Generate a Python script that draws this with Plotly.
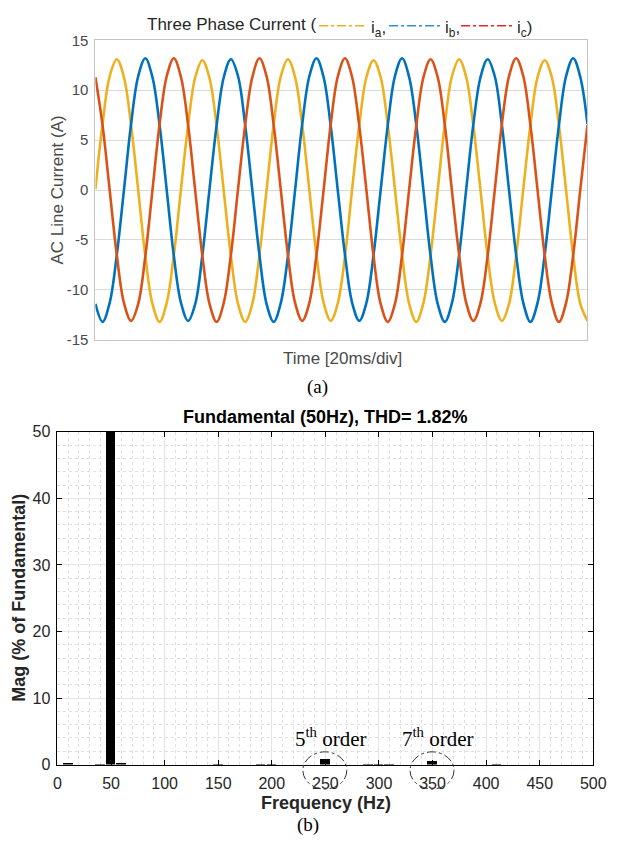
import plotly.graph_objects as go

W, H = 617, 846

# ---------------- data: (a) three-phase currents, sampled every 1/12 of a 20 ms cycle ----------------
step_ms = 20 / 12
ia = [0.1, 6.6, 11.4, 13.1, 11.3, 6.5, 0.0, -6.6, -11.4, -13.2, -11.3, -6.5,
      0.1, 6.5, 11.3, 13.0, 11.2, 6.4, -0.1, -6.6, -11.4, -13.2, -11.4, -6.5,
      0.0, 6.6, 11.4, 13.1, 11.3, 6.5, 0.0, -6.5, -11.3, -13.1, -11.3, -6.6,
      0.1, 6.5, 11.3, 13.0, 11.3, 6.5, 0.1, -6.5, -11.4, -13.2, -11.3, -6.5,
      0.0, 6.6, 11.4, 13.1, 11.3, 6.4, 0.0, -6.6, -11.3, -13.1, -11.4, -6.5,
      0.1, 6.5, 11.3, 13.0, 11.3, 6.5, 0.0, -6.6, -11.4, -13.1]
ib = [-11.4, -13.2, -11.3, -6.5, 0.0, 6.6, 11.4, 13.2, 11.3, 6.5, 0.0, -6.6,
      -11.3, -13.1, -11.4, -6.5, 0.1, 6.5, 11.3, 13.1, 11.4, 6.5, 0.0, -6.5,
      -11.4, -13.2, -11.3, -6.6, 0.0, 6.6, 11.4, 13.2, 11.3, 6.4, -0.1, -6.5,
      -11.3, -13.1, -11.3, -6.5, 0.0, 6.5, 11.4, 13.2, 11.3, 6.5, 0.0, -6.6,
      -11.4, -13.2, -11.3, -6.5, 0.1, 6.6, 11.3, 13.1, 11.4, 6.5, 0.0, -6.5,
      -11.3, -13.2, -11.3, -6.5, 0.0, 6.5, 11.4, 13.2, 11.3, 6.6]
ic = [11.3, 6.5, 0.0, -6.5, -11.3, -13.1, -11.4, -6.6, 0.0, 6.6, 11.4, 13.2,
      11.3, 6.5, -0.1, -6.6, -11.4, -13.2, -11.3, -6.5, 0.1, 6.5, 11.3, 13.2,
      11.4, 6.5, 0.0, -6.5, -11.3, -13.1, -11.3, -6.5, 0.0, 6.6, 11.4, 13.2,
      11.3, 6.4, 0.0, -6.6, -11.4, -13.2, -11.4, -6.5, 0.1, 6.5, 11.3, 13.1,
      11.3, 6.5, -0.1, -6.5, -11.3, -13.1, -11.3, -6.6, 0.0, 6.6, 11.4, 13.2,
      11.4, 6.5, 0.0, -6.5, -11.3, -13.2, -11.3, -6.5, 0.1, 6.5]
t_ms = [k * step_ms for k in range(len(ia))]
y_ticks_a = [-15, -10, -5, 0, 5, 10, 15]
y_ticktext_a = ["-15", "-10", "-5", "0", "5", "10", "15"]

# ---------------- data: (b) harmonic spectrum ----------------
freq_hz = [10, 40, 50, 60, 150, 190, 200, 250, 290, 300, 310, 350, 410]
mag_pct = [0.12, 0.1, 100, 0.15, 0.1, 0.1, 0.08, 0.85, 0.1, 0.08, 0.06, 0.5, 0.1]
x_ticks_b = [0, 50, 100, 150, 200, 250, 300, 350, 400, 450, 500]
y_ticks_b = [0, 10, 20, 30, 40, 50]
marked_harmonics = [250, 350]
marked_labels = ["5<sup>th</sup> order", "7<sup>th</sup> order"]


def px(x):
    return x / W


def py(y):
    return 1 - y / H


SANS = "Liberation Sans, Arial, sans-serif"
SERIF = "Liberation Serif, Times New Roman, serif"

fig = go.Figure()

colors = {"a": "#EDB120", "b": "#0072BD", "c": "#D95319"}
for name, vals in (("a", ia), ("b", ib), ("c", ic)):
    fig.add_trace(go.Scatter(x=t_ms, y=vals, mode="lines", xaxis="x", yaxis="y",
                             line=dict(color=colors[name], width=2.6, shape="spline"),
                             hoverinfo="skip"))

fig.add_trace(go.Bar(x=freq_hz, y=mag_pct, width=9, xaxis="x2", yaxis="y2",
                     marker=dict(color="black", line=dict(width=0))))

fig.update_layout(
    width=W, height=H, margin=dict(l=0, r=0, t=0, b=0),
    paper_bgcolor="white", plot_bgcolor="white", showlegend=False,
    bargap=0,
    xaxis=dict(domain=[px(94), px(600)], range=[0, 115], anchor="y",
               showgrid=False, showticklabels=False, ticks="", zeroline=False,
               showline=True, linecolor="#c4c4c4", linewidth=1, mirror=True),
    yaxis=dict(domain=[py(338), py(32)], range=[-15, 15], anchor="x",
               tickvals=y_ticks_a, ticktext=y_ticktext_a, ticks="", zeroline=False,
               ticklabelstandoff=3,
               tickfont=dict(family=SANS, size=15, color="#4a4a4a"),
               showgrid=True, gridcolor="#dadada", gridwidth=1,
               showline=True, linecolor="#c4c4c4", linewidth=1, mirror=True),
    xaxis2=dict(domain=[px(55), px(606)], range=[0, 500], anchor="y2",
                tickvals=x_ticks_b, ticks="inside", ticklen=5, tickcolor="black",
                ticklabeloverflow="allow", ticklabelstandoff=4,
                tickfont=dict(family=SANS, size=16, color="#262626"),
                zeroline=False, showline=True, linecolor="black", linewidth=1, mirror="ticks",
                showgrid=True, gridcolor="#e4e4e4", gridwidth=1,
                minor=dict(dtick=10, showgrid=True, gridcolor="#e0e0e0", griddash="dot", ticks="")),
    yaxis2=dict(domain=[py(772), py(432)], range=[0, 50], anchor="x2",
                tickvals=y_ticks_b, ticks="inside", ticklen=5, tickcolor="black",
                ticklabelstandoff=3,
                tickfont=dict(family=SANS, size=16, color="#262626"),
                zeroline=False, showline=True, linecolor="black", linewidth=1, mirror="ticks",
                showgrid=True, gridcolor="#e4e4e4", gridwidth=1,
                minor=dict(dtick=2, showgrid=True, gridcolor="#e0e0e0", griddash="dot", ticks="")),
)

ann = []
# top title pieces
ann.append(dict(text="Three Phase Current (", x=px(323), y=py(16), xanchor="right", yanchor="middle",
                font=dict(family=SANS, size=17, color="#262626")))
for txt, x0 in (("i<sub>a</sub>,", 375), ("i<sub>b</sub>,", 451), ("i<sub>c</sub>)", 525)):
    ann.append(dict(text=txt, x=px(x0), y=py(20), xanchor="left", yanchor="middle",
                    font=dict(family=SANS, size=17, color="#262626")))
ann.append(dict(text="AC Line Current (A)", x=px(55), y=py(185), textangle=-90,
                xanchor="center", yanchor="middle", font=dict(family=SANS, size=17, color="#4a4a4a")))
ann.append(dict(text="Time [20ms/div]", x=px(348), y=py(357), xanchor="center", yanchor="middle",
                font=dict(family=SANS, size=17, color="#4a4a4a")))
ann.append(dict(text="(a)", x=px(322), y=py(386), xanchor="center", yanchor="middle",
                font=dict(family=SERIF, size=19, color="black")))
# bottom
ann.append(dict(text="<b>Fundamental (50Hz), THD= 1.82%</b>", x=px(331), y=py(417),
                xanchor="center", yanchor="middle", font=dict(family=SANS, size=18, color="black")))
ann.append(dict(text="<b>Mag (% of Fundamental)</b>", x=px(16), y=py(602), textangle=-90,
                xanchor="center", yanchor="middle", font=dict(family=SANS, size=18, color="#262626")))
ann.append(dict(text="<b>Frequency (Hz)</b>", x=px(331), y=py(811), xanchor="center", yanchor="middle",
                font=dict(family=SANS, size=18, color="#262626")))
ann.append(dict(text="(b)", x=px(313), y=py(834), xanchor="center", yanchor="middle",
                font=dict(family=SERIF, size=19, color="black")))
for h, lab in zip(marked_harmonics, marked_labels):
    ann.append(dict(text=lab, x=h + 5, xref="x2", y=py(744), yref="paper", xanchor="center",
                    yanchor="middle", showarrow=False, font=dict(family=SERIF, size=21, color="black")))

for a in ann:
    a.setdefault("xref", "paper")
    a.setdefault("yref", "paper")
    a.setdefault("showarrow", False)
fig.update_layout(annotations=ann)

shapes = []
for x0, x1, c in ((324, 372, "#EDB120"), (396, 449, "#2E8FD6"), (470, 523, "#E5262E")):
    shapes.append(dict(type="line", xref="paper", yref="paper", x0=px(x0), x1=px(x1),
                       y0=py(17), y1=py(17), line=dict(color=c, width=1.5, dash="dashdot")))
for h in marked_harmonics:
    shapes.append(dict(type="circle", xref="x2", yref="paper", x0=h - 21, x1=h + 20,
                       y0=py(797), y1=py(759), line=dict(color="#333333", width=1, dash="dashdot")))
fig.update_layout(shapes=shapes)

fig.write_html("out.html")
